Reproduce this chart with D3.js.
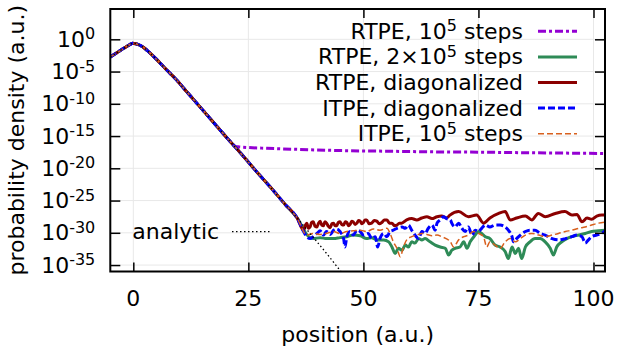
<!DOCTYPE html>
<meta charset="utf-8">
<style>
  body { margin: 0; background: #fff; }
  text { font-family: "DejaVu Sans", sans-serif; fill: #000; }
</style>
<body>
<script src="https://cdn.jsdelivr.net/npm/d3@7"></script>
<script>

// values; y values are log10 of the probability density
var mainX   = [-5, -4, -3, -2, -1, -0.5, -0.2, 0.5, 1, 2, 3, 4, 5, 6, 7, 8, 9, 12, 15, 18, 21];
var mainLog = [-2.74, -2.28, -1.82, -1.36, -0.92, -0.72, -0.62, -0.68, -0.8, -1.15, -1.72, -2.38, -3.08, -3.82, -4.56, -5.28, -6.0, -8.45, -10.9, -13.35, -15.8];

// common part after the split of the 1e5 RTPE run
var mainTailX   = [24, 27, 30, 33, 35.6];
var mainTailLog = [-18.2, -20.7, -23.1, -25.6, -27.7];

var rtpe1X   = [22.2, 23, 25, 29, 35, 45, 55, 65, 75, 85, 95, 102.5];
var rtpe1Log = [-16.6, -16.68, -16.78, -16.9, -17.05, -17.25, -17.35, -17.45, -17.5, -17.58, -17.65, -17.7];

var rtpe2X   = [38.1, 39.1, 40.6, 42.0, 43.5, 44.9, 46.4, 47.8, 49.3, 50.7, 51.8, 52.9, 54.4, 55.5, 56.2, 56.9, 57.6, 58.4, 59.1, 59.8, 60.5, 61.2, 62.0, 62.7, 63.4, 64.5, 65.6, 66.7, 67.8, 68.5, 69.2, 69.9, 71.0, 71.8, 72.5, 73.2, 74.3, 75.0, 75.7, 76.5, 77.5, 78.6, 79.7, 80.8, 81.5, 82.3, 83.0, 83.7, 84.4, 85.2, 86.2, 87.3, 88.4, 89.5, 90.6, 91.3, 92.0, 93.1, 94.2, 95.3, 96.8, 98.2, 99.6, 101.1, 102.5];
var rtpe2Log = [-30.6, -30.9, -30.75, -30.9, -30.9, -30.75, -30.6, -30.35, -30.45, -30.9, -30.75, -31.1, -31.1, -31.4, -32.2, -33.2, -32.4, -32.7, -31.9, -32.2, -31.4, -31.6, -30.9, -31.1, -30.9, -31.4, -31.9, -32.2, -32.4, -33.45, -32.7, -32.4, -32.2, -31.4, -32.4, -31.4, -30.35, -29.8, -30.1, -30.6, -30.9, -31.9, -32.2, -32.9, -34.0, -32.2, -33.2, -32.4, -34.0, -32.2, -31.4, -30.9, -30.9, -31.4, -32.4, -33.45, -32.2, -31.4, -30.9, -30.6, -30.35, -30.1, -29.8, -29.7, -29.6];

var rtpeDiagX   = [37.0, 37.35, 37.7, 38.05, 38.4, 38.75, 39.1, 39.5, 39.9, 40.25, 40.6, 40.95, 41.3, 41.65, 42.0, 42.4, 42.8, 43.15, 43.5, 43.85, 44.2, 44.55, 44.9, 45.3, 45.7, 46.05, 46.4, 46.75, 47.1, 47.45, 47.8, 48.2, 48.6, 48.95, 49.3, 49.65, 50.0, 50.35, 50.7, 51.25, 51.8, 52.35, 52.9, 53.45, 54.0, 54.55, 55.1, 55.65, 56.2, 56.75, 57.3, 57.8, 58.3, 59.4, 60.5, 61.6, 62.7, 63.8, 64.9, 66.0, 67.0, 68.1, 68.8, 70.7, 72.8, 74.6, 76.1, 77.5, 79.4, 80.8, 81.9, 83.3, 85.2, 86.6, 88.0, 89.5, 91.7, 93.8, 95.3, 96.4, 97.5, 98.6, 99.6, 100.7, 101.8, 102.5];
var rtpeDiagLog = [-29.6, -28.9, -28.5, -29.3, -29.1, -28.4, -28.3, -29.0, -29.1, -28.5, -28.2, -28.8, -28.9, -28.3, -28.5, -29.0, -29.2, -28.6, -28.5, -28.9, -28.9, -28.4, -28.3, -28.7, -28.8, -28.3, -28.4, -28.9, -28.7, -28.2, -28.3, -28.7, -28.5, -28.1, -28.2, -28.6, -28.4, -28.0, -28.0, -28.6, -28.5, -28.1, -28.2, -28.6, -28.4, -28.0, -28.0, -28.5, -28.5, -28.9, -28.8, -28.5, -28.5, -28.0, -27.8, -28.0, -27.7, -27.5, -27.8, -27.5, -27.4, -27.7, -27.25, -26.7, -27.5, -27.25, -28.5, -27.7, -27.0, -26.7, -28.0, -27.7, -27.4, -28.0, -27.0, -27.5, -27.0, -26.7, -27.25, -27.15, -28.3, -27.7, -27.9, -27.4, -27.25, -27.25];

var itpeDiagX   = [37.0, 37.7, 38.4, 39.1, 39.9, 40.6, 41.3, 42.0, 42.8, 43.5, 44.2, 44.9, 45.7, 46.0, 46.4, 47.1, 47.8, 48.6, 49.3, 50.0, 51.1, 51.8, 52.6, 53.1, 53.6, 54.4, 55.1, 55.8, 56.5, 57.3, 58.4, 59.1, 59.8, 60.5, 61.2, 62.0, 62.7, 63.4, 64.1, 64.9, 65.6, 66.0, 66.7, 67.4, 68.1, 68.9, 69.2, 69.9, 70.7, 71.4, 72.1, 72.8, 73.6, 74.3, 75.0, 75.7, 76.5, 77.5, 78.6, 79.7, 80.8, 81.5, 82.3, 82.6, 83.3, 84.1, 85.2, 86.2, 87.3, 88.4, 89.5, 91.0, 92.4, 93.9, 95.3, 96.4, 97.5, 98.2, 98.9, 99.6, 100.7, 101.8, 102.5];
var itpeDiagLog = [-29.8, -30.6, -30.9, -30.6, -30.1, -29.7, -30.35, -29.8, -30.25, -29.6, -29.4, -29.8, -30.9, -32.2, -30.6, -29.8, -30.35, -29.6, -29.8, -30.35, -30.1, -30.9, -30.6, -32.2, -30.9, -30.1, -30.6, -29.8, -29.6, -29.3, -29.1, -29.3, -28.8, -29.6, -30.35, -30.9, -29.8, -30.1, -29.3, -28.8, -29.6, -28.5, -28.0, -27.5, -27.8, -28.0, -28.5, -29.1, -28.5, -29.3, -29.8, -29.1, -30.35, -29.6, -29.8, -29.3, -28.8, -29.1, -28.8, -28.8, -29.1, -29.6, -30.6, -31.4, -30.9, -30.35, -29.8, -29.6, -29.6, -30.1, -30.35, -30.9, -31.1, -30.9, -30.6, -30.35, -30.6, -31.6, -31.1, -30.6, -30.35, -30.1, -29.7];

var itpe1X   = [37.7, 39.1, 40.6, 42.0, 43.5, 44.9, 46.4, 47.8, 49.3, 50.7, 52.2, 53.6, 55.1, 55.8, 56.5, 57.3, 58.0, 58.7, 59.4, 60.5, 61.6, 62.7, 63.8, 64.9, 66.0, 67.0, 68.9, 69.6, 70.7, 71.8, 72.8, 73.9, 75.0, 76.1, 76.8, 77.5, 78.6, 79.7, 80.8, 81.9, 83.0, 84.1, 85.2, 86.6, 88.1, 89.5, 91.0, 92.4, 93.9, 95.3, 96.8, 98.2, 99.6, 101.1, 102.5];
var itpe1Log = [-30.35, -30.1, -30.25, -30.1, -29.8, -30.1, -29.8, -29.7, -29.6, -29.8, -29.4, -29.6, -29.3, -30.1, -31.4, -32.4, -33.7, -32.2, -31.1, -30.6, -30.35, -30.1, -30.25, -30.45, -30.35, -30.6, -31.4, -32.2, -31.1, -30.6, -30.35, -29.8, -30.1, -30.6, -32.2, -31.4, -31.9, -32.4, -31.4, -30.9, -31.4, -30.9, -30.35, -30.1, -30.35, -30.6, -30.35, -30.1, -29.8, -29.6, -29.3, -29.1, -28.8, -28.5, -28.35];

var analyticTailX   = [37, 39.1, 42, 45, 46.5];
var analyticTailLog = [-28.9, -30.7, -33.2, -35.9, -37.2];

var seriesNames = ["RTPE, 10^5 steps", "RTPE, 2×10^5 steps", "RTPE, diagonalized", "ITPE, diagonalized", "ITPE, 10^5 steps"];
var xTicks = [0, 25, 50, 75, 100];
var yTickExps = [0, -5, -10, -15, -20, -25, -30, -35];

function zip(xs, ls) {
  return xs.map(function(x, i) { return {x: x, y: Math.pow(10, ls[i])}; });
}
var mainPts = zip(mainX, mainLog);
var common = mainPts.concat(zip(mainTailX, mainTailLog));

var series = [
  {name: seriesNames[0], pts: mainPts.concat(zip(rtpe1X, rtpe1Log)), color: "#9400d3", width: 3, dash: "8,3,3,3"},
  {name: seriesNames[1], pts: common.concat(zip(rtpe2X, rtpe2Log)), color: "#2e8b57", width: 3, dash: null},
  {name: seriesNames[2], pts: common.concat(zip(rtpeDiagX, rtpeDiagLog)), color: "#8b0000", width: 3, dash: null},
  {name: seriesNames[3], pts: common.concat(zip(itpeDiagX, itpeDiagLog)), color: "#0000ff", width: 3, dash: "7,3"},
  {name: seriesNames[4], pts: common.concat(zip(itpe1X, itpe1Log)), color: "#d8601e", width: 1.5, dash: "6,3"}
];
var analytic = common.concat(zip(analyticTailX, analyticTailLog));

var W = 619, H = 351;
var margin = {top: 9, right: 14, bottom: 79.5, left: 110.3},
    width = W - margin.left - margin.right,
    height = H - margin.top - margin.bottom;
var fs = 22, supFs = 16, supDy = 7.5;

var x = d3.scaleLinear().domain([-5, 102.5]).range([0, width]);
var y = d3.scaleLog().domain([1e-36, Math.pow(10, 4.7)]).range([height, 0]);

var svg = d3.select("body").append("svg")
    .attr("width", W)
    .attr("height", H)
  .append("g")
    .attr("transform", "translate(" + margin.left + "," + margin.top + ")");

svg.append("clipPath").attr("id", "clip")
  .append("rect").attr("width", width).attr("height", height);

// grid
var grid = svg.append("g").attr("stroke", "#e8e8e8").attr("stroke-width", 1);
grid.selectAll(".gx").data(xTicks).enter().append("line")
    .attr("x1", function(d) { return x(d); }).attr("x2", function(d) { return x(d); })
    .attr("y1", 0).attr("y2", height);
grid.selectAll(".gy").data(yTickExps).enter().append("line")
    .attr("y1", function(d) { return y(Math.pow(10, d)); }).attr("y2", function(d) { return y(Math.pow(10, d)); })
    .attr("x1", 0).attr("x2", width);

// curves
var line = d3.line()
    .curve(d3.curveMonotoneX)
    .x(function(d) { return x(d.x); })
    .y(function(d) { return y(d.y); });

var curves = svg.append("g").attr("clip-path", "url(#clip)");
series.forEach(function(s) {
  curves.append("path")
      .datum(s.pts)
      .attr("fill", "none")
      .attr("stroke", s.color)
      .attr("stroke-width", s.width)
      .attr("stroke-dasharray", s.dash)
      .attr("stroke-linejoin", "round")
      .attr("d", line);
});
curves.append("path")
    .datum(analytic)
    .attr("fill", "none")
    .attr("stroke", "#000")
    .attr("stroke-width", 1.3)
    .attr("stroke-dasharray", "1.5,2.5")
    .attr("d", line);

// axes (ticks pointing inward, mirrored)
function tickStyle(g) {
  g.select(".domain").remove();
  g.selectAll("line").attr("stroke", "#000").attr("stroke-width", 1.5);
}
var yTickVals = yTickExps.map(function(e) { return Math.pow(10, e); });
svg.append("g").attr("transform", "translate(0," + height + ")")
    .call(d3.axisBottom(x).tickValues(xTicks).tickSize(-9).tickFormat(""))
    .call(tickStyle);
svg.append("g")
    .call(d3.axisTop(x).tickValues(xTicks).tickSize(-9).tickFormat(""))
    .call(tickStyle);
svg.append("g")
    .call(d3.axisLeft(y).tickValues(yTickVals).tickSize(-10).tickFormat(""))
    .call(tickStyle);
svg.append("g").attr("transform", "translate(" + width + ",0)")
    .call(d3.axisRight(y).tickValues(yTickVals).tickSize(-10).tickFormat(""))
    .call(tickStyle);

svg.append("rect")
    .attr("width", width).attr("height", height)
    .attr("fill", "none").attr("stroke", "#000").attr("stroke-width", 2);

// tick labels
svg.selectAll(".xl").data(xTicks).enter().append("text")
    .attr("x", function(d) { return x(d); })
    .attr("y", height + 34)
    .attr("text-anchor", "middle")
    .style("font-size", fs + "px")
    .text(function(d) { return d; });

var yl = svg.selectAll(".yl").data(yTickExps).enter().append("text")
    .attr("x", -15)
    .attr("y", function(d) { return y(Math.pow(10, d)) + 7.5; })
    .attr("text-anchor", "end")
    .style("font-size", fs + "px");
yl.append("tspan").text("10");
yl.append("tspan").attr("dy", -supDy).style("font-size", supFs + "px").text(function(d) { return d; });

// axis titles
svg.append("text")
    .attr("transform", "translate(" + (23.5 - margin.left) + "," + (height / 2) + ") rotate(-90)")
    .attr("text-anchor", "middle")
    .style("font-size", fs + "px")
    .text("probability density (a.u.)");
svg.append("text")
    .attr("x", width / 2)
    .attr("y", 341.7 - margin.top)
    .attr("text-anchor", "middle")
    .style("font-size", fs + "px")
    .text("position (a.u.)");

// "^n" in a label becomes a superscript
function richLabel(t, str) {
  var back = 0;
  str.split(/(\^\d+)/).forEach(function(part) {
    if (!part) return;
    if (part[0] === "^") {
      t.append("tspan").attr("dy", -supDy).style("font-size", supFs + "px").text(part.slice(1));
      back = supDy;
    } else {
      t.append("tspan").attr("dy", back).text(part);
      back = 0;
    }
  });
}

// legend (top right)
var legend = svg.append("g");
series.forEach(function(s, i) {
  var cy = 31.3 - margin.top + i * 25.6;
  var t = legend.append("text")
      .attr("x", 523 - margin.left)
      .attr("y", cy + 7.5)
      .attr("text-anchor", "end")
      .style("font-size", fs + "px");
  richLabel(t, s.name);
  legend.append("line")
      .attr("x1", 538 - margin.left).attr("x2", 577 - margin.left)
      .attr("y1", cy).attr("y2", cy)
      .attr("stroke", s.color)
      .attr("stroke-width", s.width)
      .attr("stroke-dasharray", s.dash);
});

// second key (bottom left)
var ay = 231.7 - margin.top;
svg.append("text")
    .attr("x", 132.3 - margin.left)
    .attr("y", ay + 7.5)
    .style("font-size", fs + "px")
    .text("analytic");
svg.append("line")
    .attr("x1", 232 - margin.left).attr("x2", 270 - margin.left)
    .attr("y1", ay).attr("y2", ay)
    .attr("stroke", "#000")
    .attr("stroke-width", 1.3)
    .attr("stroke-dasharray", "1.5,2.5");

</script>
</body>
